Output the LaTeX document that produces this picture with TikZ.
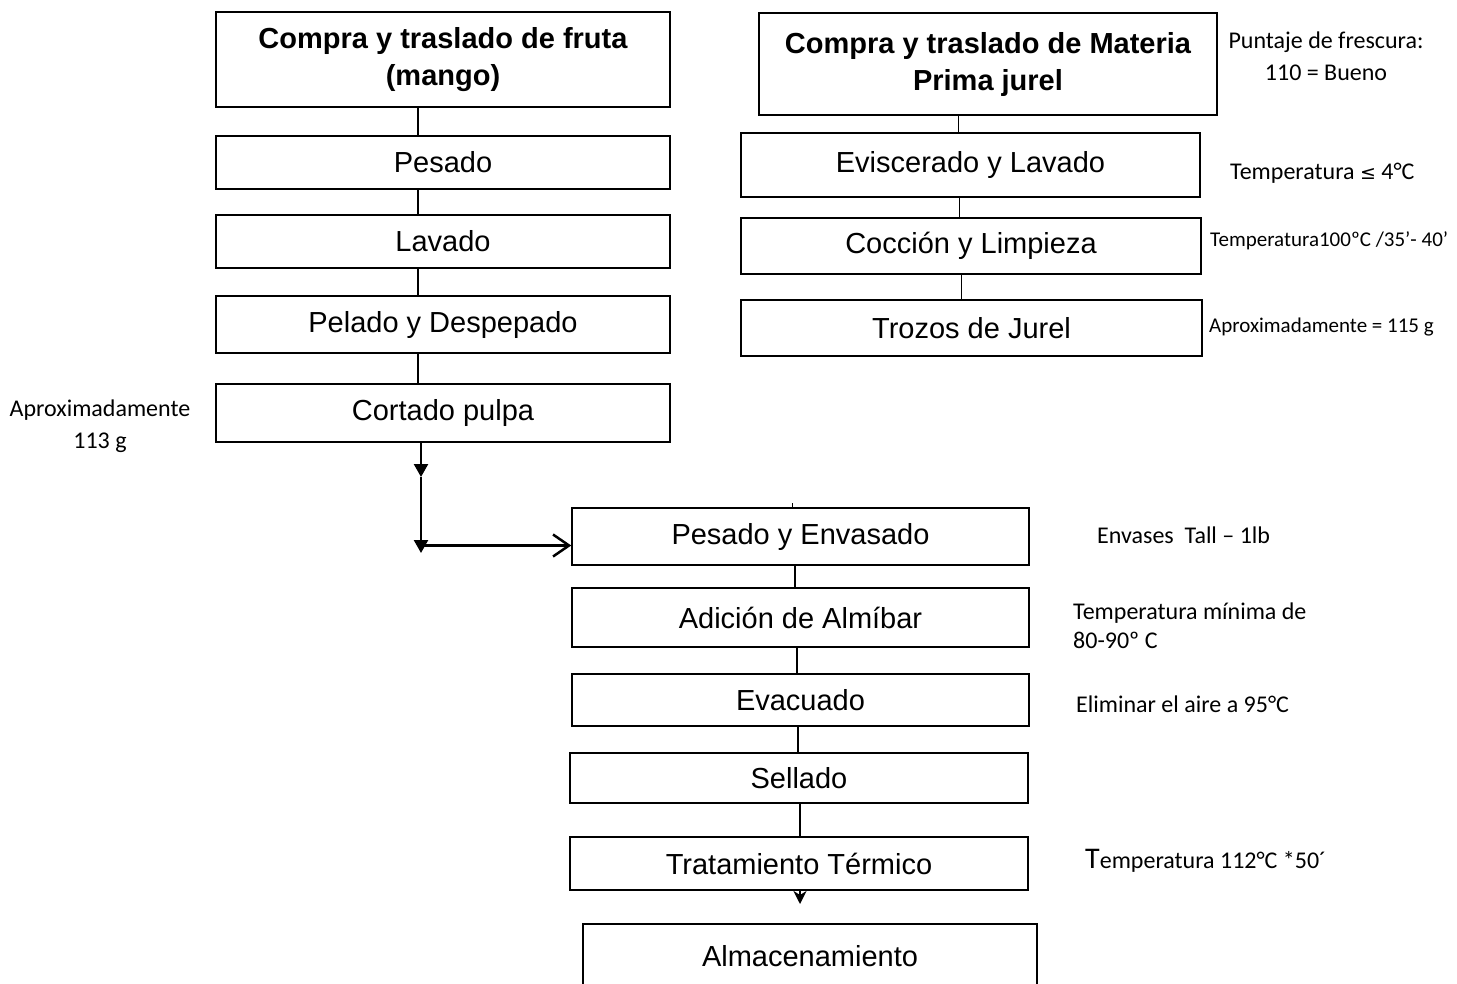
\documentclass[tikz,border=0pt]{standalone}
\usepackage{fontspec}
\setmainfont{Liberation Sans}
\newfontfamily\calib{Carlito}
\newfontfamily\dejavu{DejaVu Sans}
\usetikzlibrary{arrows.meta}
\tikzset{
  proc/.style={draw, line width=1.5pt, inner sep=0pt, align=center, font=\fontsize{29}{37}\selectfont},
  titlebox/.style={proc, font=\bfseries\fontsize{29}{37}\selectfont},
  note/.style={inner sep=0pt, anchor=west, font=\calib\fontsize{24}{30}\selectfont},
  smallnote/.style={note, font=\calib\fontsize{21}{26}\selectfont},
  heavylink/.style={line width=2.3pt},
  thinlink/.style={line width=1pt},
  filledtip/.style={heavylink, -{Triangle[length=13pt,width=14pt]}},
  opentip/.style={heavylink, -{Straight Barb[length=16pt,width=22pt,line width=2.5pt]}},
}
\begin{document}
\begin{tikzpicture}[x=1pt,y=-1pt]
\useasboundingbox (0,0) rectangle (1457,983);
\clip (0,0) rectangle (1457,983);
\fill[white] (0,0) rectangle (1457,983);

% left column (mango)
\node[titlebox, minimum width=454pt, minimum height=95pt] (mango) at (443,59.5) {Compra y traslado de fruta\\(mango)};
\node[proc, minimum width=454pt, minimum height=53pt] (pesado) at (443,162.5) {Pesado};
\node[proc, minimum width=454pt, minimum height=53pt] (lavado) at (443,241.5) {Lavado};
\node[proc, minimum width=454pt, minimum height=57pt] (pelado) at (443,324.5) {Pelado y Despepado};
\node[proc, minimum width=454pt, minimum height=58pt] (cortado) at (443,413) {Cortado pulpa};

% right column (jurel)
\node[titlebox, minimum width=458pt, minimum height=102pt] (jurel) at (988,64) {Compra y traslado de Materia\\Prima jurel};
\node[proc, minimum width=459pt, minimum height=64pt] (evisc) at (970.5,165) {Eviscerado y Lavado};
\node[proc, minimum width=460pt, minimum height=56pt] (coccion) at (971,246) {Cocción y Limpieza};
\node[proc, minimum width=461pt, minimum height=56pt] (trozos) at (971.5,328) {Trozos de Jurel};

% bottom column
\node[proc, minimum width=457pt, minimum height=57pt] (pesenv) at (800.5,536.5) {Pesado y Envasado};
\node[proc, minimum width=457pt, minimum height=59pt] (adicion) at (800.5,617.5) {Adición de Almíbar};
\node[proc, minimum width=457pt, minimum height=52pt] (evac) at (800.5,700) {Evacuado};
\node[proc, minimum width=458pt, minimum height=50pt] (sellado) at (799,778) {Sellado};
\node[proc, minimum width=458pt, minimum height=53pt] (trat) at (799,863.5) {Tratamiento Térmico};
\node[proc, minimum width=454pt, minimum height=70pt] (almacen) at (810,959) {\raisebox{6pt}{Almacenamiento}};

% connector guide coordinates
\coordinate (lx) at (418,0);
\coordinate (cx) at (421,0);
\coordinate (rx1) at (958,0);
\coordinate (rx2) at (959,0);
\coordinate (rx3) at (961,0);
\coordinate (bx1) at (795,0);
\coordinate (bx2) at (797,0);
\coordinate (bx3) at (798,0);
\coordinate (bx4) at (800,0);
\coordinate (tick) at (792,503);
\coordinate (mid) at (421,477);
\coordinate (joinend) at (421,553);
\coordinate (joinh) at (421,545.5);
\coordinate (tratend) at (800,904);

% left connectors
\draw[heavylink] (mango.south -| lx) -- (pesado.north -| lx);
\draw[heavylink] (pesado.south -| lx) -- (lavado.north -| lx);
\draw[heavylink] (lavado.south -| lx) -- (pelado.north -| lx);
\draw[heavylink] (pelado.south -| lx) -- (cortado.north -| lx);
\draw[filledtip] (cortado.south -| cx) -- (mid);
\draw[filledtip] (mid) -- (joinend);
\draw[opentip] (joinh) -- (pesenv.west |- joinh);

% right connectors
\draw[thinlink] (jurel.south -| rx1) -- (evisc.north -| rx1);
\draw[thinlink] (evisc.south -| rx2) -- (coccion.north -| rx2);
\draw[thinlink] (coccion.south -| rx3) -- (trozos.north -| rx3);

% bottom connectors
\draw[thinlink] (tick) -- (pesenv.north -| tick);
\draw[heavylink] (pesenv.south -| bx1) -- (adicion.north -| bx1);
\draw[heavylink] (adicion.south -| bx2) -- (evac.north -| bx2);
\draw[heavylink] (evac.south -| bx3) -- (sellado.north -| bx3);
\draw[heavylink] (sellado.south -| bx4) -- (trat.north -| bx4);
\draw[line width=2pt, -{Stealth[length=13pt,width=13pt,inset=4pt]}] (trat.south -| tratend) -- (tratend);

% annotations
\node[note, anchor=center, align=center, font=\calib\fontsize{24}{32}\selectfont] (n1) at (1326,56) {Puntaje de frescura:\\110 = Bueno};
\node[note] (n2) at (1230,173) {Temperatura {\dejavu\fontsize{19}{24}\selectfont ≤} 4°C};
\node[smallnote] (n3) at (1210,241) {Temperatura100ºC /35’- 40’};
\node[smallnote] (n4) at (1209,327) {Aproximadamente = 115 g};
\node[note, anchor=center, align=center, font=\calib\fontsize{24}{32}\selectfont] (n5) at (100,426) {Aproximadamente\\113 g};
\node[note] (n6) at (1097,535) {Envases\ \ Tall – 1lb};
\node[note, align=left, font=\calib\fontsize{24}{29}\selectfont] (n7) at (1073,626) {Temperatura mínima de\\80-90º C};
\node[note] (n8) at (1076,704) {Eliminar el aire a 95°C};
\node[note] (n9) at (1085,861) {{\fontsize{30}{30}\selectfont T}emperatura 112°C *50´};
\end{tikzpicture}
\end{document}
